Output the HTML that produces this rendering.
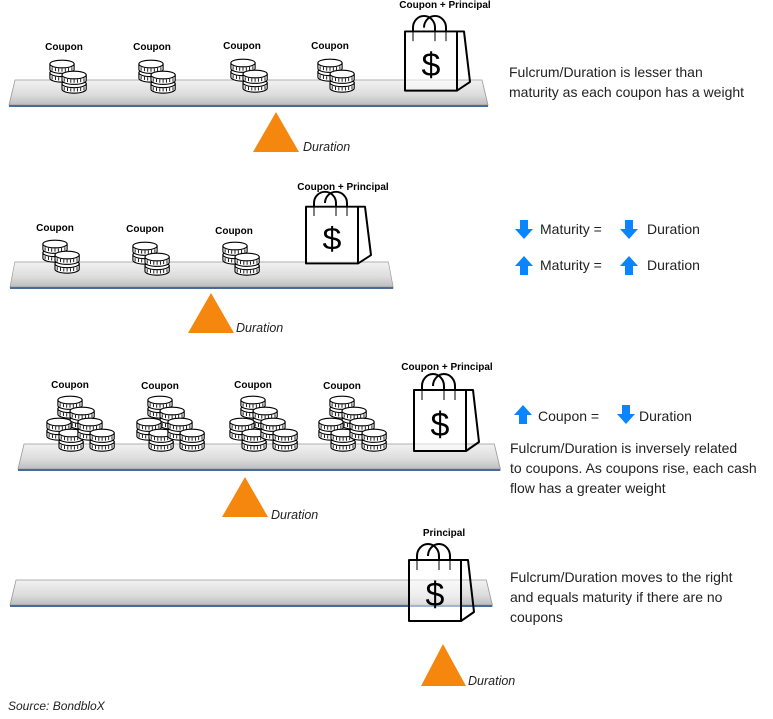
<!DOCTYPE html>
<html><head><meta charset="utf-8"><style>
html,body{margin:0;padding:0;background:#fff;}
svg{display:block;}
text{font-family:"Liberation Sans",sans-serif;}
.cl{font-size:10px;font-weight:bold;fill:#000;}
.dur{font-size:12.5px;font-style:italic;fill:#222;}
.t{font-size:14px;fill:#222;}
</style></head><body>
<svg width="773" height="719" viewBox="0 0 773 719" xmlns="http://www.w3.org/2000/svg">
<defs>
<linearGradient id="bg" x1="0" y1="0" x2="0" y2="1">
<stop offset="0" stop-color="#f2f2f2"/><stop offset="0.6" stop-color="#dcdcdc"/><stop offset="1" stop-color="#bdbdbd"/></linearGradient>
<g id="coin">
<path d="M-11,0 v5 a11,3.5 0 0 0 22,0 v-5 z" fill="#fff" stroke="#000" stroke-width="1"/>
<path d="M-9,3 v3 M-6,3.5 v3 M-3,4 v3 M0,4 v3 M3,4 v3 M6,3.5 v3 M9,3 v3" stroke="#000" stroke-width="0.8"/>
<ellipse cx="0" cy="0" rx="11" ry="3.5" fill="#fff" stroke="#000" stroke-width="1"/>
</g>
<g id="pile0">
<use href="#coin" x="0" y="8"/><use href="#coin" x="0" y="0"/>
<use href="#coin" x="11" y="18"/><use href="#coin" x="11" y="10"/>
</g>
<g id="pile"><g transform="scale(1.1)"><use href="#pile0"/></g></g>
<g id="pile3">
<use href="#pile" x="8" y="0"/>
<use href="#pile" x="-3" y="22"/>
<use href="#pile" x="28" y="22"/>
</g>
<g id="bag" fill="none" stroke="#000" stroke-width="2" stroke-linejoin="round">
<path d="M8,28 v-14 a11,12 0 0 1 22,0 v14 M19,14 a11,12 0 0 1 22,0 v14" fill="none"/>
<path d="M0,18 H52 V79 H0 Z" fill="rgba(255,255,255,0.5)"/>
<path d="M52,18 L59,18 L65,70 L52,79"/>
<text x="26" y="64" font-size="34" text-anchor="middle" fill="#000" stroke="none" font-family="Liberation Sans, sans-serif">$</text>
</g>
<g id="beam">
<polygon points="6,0 473,0 479,25 0,25" fill="url(#bg)" stroke="#999" stroke-width="0.8"/>
<rect x="0" y="25" width="479" height="2" fill="#4a6a9a"/>
</g>
<path id="dn" d="M5,0 h8 v9 h5 l-9,10 l-9,-10 h5 z" fill="#0a84ff"/>
<path id="up" d="M5,19 h8 v-9 h5 l-9,-10 l-9,10 h5 z" fill="#0a84ff"/>
</defs>

<!-- Section 1 -->
<use href="#beam" x="9" y="80"/>
<text class="cl" x="64" y="50" text-anchor="middle">Coupon</text>
<text class="cl" x="152" y="50" text-anchor="middle">Coupon</text>
<text class="cl" x="242" y="49" text-anchor="middle">Coupon</text>
<text class="cl" x="330" y="49" text-anchor="middle">Coupon</text>
<use href="#pile" x="62" y="64"/>
<use href="#pile" x="151" y="64"/>
<use href="#pile" x="243" y="63"/>
<use href="#pile" x="330" y="63"/>
<g transform="translate(405,14) scale(1,0.97)"><use href="#bag"/></g>
<text class="cl" x="445" y="8" text-anchor="middle">Coupon + Principal</text>
<polygon points="276,112 253,152 299,152" fill="#f5870f"/>
<text class="dur" x="303" y="151">Duration</text>
<text class="t" x="509" y="77">Fulcrum/Duration is lesser than</text>
<text class="t" x="509" y="97">maturity as each coupon has a weight</text>

<!-- Section 2 -->
<use href="#beam" transform="translate(10,262) scale(0.8,1)"/>
<text class="cl" x="55" y="231" text-anchor="middle">Coupon</text>
<text class="cl" x="145" y="232" text-anchor="middle">Coupon</text>
<text class="cl" x="234" y="234" text-anchor="middle">Coupon</text>
<use href="#pile" x="55" y="244"/>
<use href="#pile" x="145" y="246"/>
<use href="#pile" x="235" y="246"/>
<g transform="translate(306,190) scale(1,0.93)"><use href="#bag"/></g>
<text class="cl" x="343" y="190" text-anchor="middle">Coupon + Principal</text>
<polygon points="211,293 188,333 234,333" fill="#f5870f"/>
<text class="dur" x="236" y="332">Duration</text>
<use href="#dn" x="515" y="220"/>
<text class="t" x="540" y="234">Maturity =</text>
<use href="#dn" x="620" y="220"/>
<text class="t" x="647" y="234">Duration</text>
<use href="#up" x="515" y="256"/>
<text class="t" x="540" y="270">Maturity =</text>
<use href="#up" x="620" y="256"/>
<text class="t" x="647" y="270">Duration</text>

<!-- Section 3 -->
<use href="#beam" transform="translate(18,444) scale(1.007,1)"/>
<text class="cl" x="70" y="388" text-anchor="middle">Coupon</text>
<text class="cl" x="160" y="389" text-anchor="middle">Coupon</text>
<text class="cl" x="253" y="388" text-anchor="middle">Coupon</text>
<text class="cl" x="342" y="389" text-anchor="middle">Coupon</text>
<use href="#pile3" x="62" y="400"/>
<use href="#pile3" x="152" y="400"/>
<use href="#pile3" x="245" y="400"/>
<use href="#pile3" x="334" y="400"/>
<g transform="translate(414,372)"><use href="#bag"/></g>
<text class="cl" x="447" y="370" text-anchor="middle">Coupon + Principal</text>
<polygon points="245,477 222,517 268,517" fill="#f5870f"/>
<text class="dur" x="271" y="519">Duration</text>
<use href="#up" x="514" y="405"/>
<text class="t" x="538" y="421">Coupon =</text>
<use href="#dn" x="617" y="405"/>
<text class="t" x="639" y="421">Duration</text>
<text class="t" x="510" y="453">Fulcrum/Duration is inversely related</text>
<text class="t" x="510" y="473">to coupons. As coupons rise, each cash</text>
<text class="t" x="510" y="493">flow has a greater weight</text>

<!-- Section 4 -->
<use href="#beam" transform="translate(10,580) scale(1.007,1)"/>
<g transform="translate(409,542)"><use href="#bag"/></g>
<text class="cl" x="444" y="536" text-anchor="middle">Principal</text>
<polygon points="443,644 421,686 466,686" fill="#f5870f"/>
<text class="dur" x="468" y="685">Duration</text>
<text class="t" x="510" y="582">Fulcrum/Duration moves to the right</text>
<text class="t" x="510" y="602">and equals maturity if there are no</text>
<text class="t" x="510" y="622">coupons</text>

<text x="8" y="710" font-size="12" font-style="italic" fill="#222">Source: BondbloX</text>
</svg>
</body></html>
